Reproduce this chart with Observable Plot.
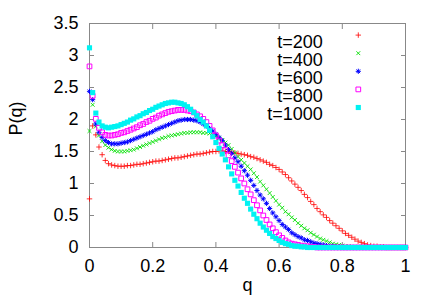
<!DOCTYPE html>
<html>
<head>
<meta charset="utf-8">
<script src="https://cdn.jsdelivr.net/npm/d3@7"></script>
<script src="https://cdn.jsdelivr.net/npm/@observablehq/plot@0.6"></script>
<style>
  html, body { margin: 0; padding: 0; background: #ffffff; }
  #chart svg { display: block; }
</style>
</head>
<body>
<div id="chart"></div>
<script>
// q grid (101 samples from 0 to 1)
const qValues = d3.range(0, 101).map(i => i / 100);

const seriesLabels = ["t=200", "t=400", "t=600", "t=800", "t=1000"];

const p200 = [0.76,1.90,1.76,1.57,1.45,1.36,1.31,1.29,1.28,1.27,
  1.27,1.27,1.28,1.28,1.29,1.30,1.30,1.31,1.32,1.33,
  1.34,1.35,1.35,1.36,1.37,1.38,1.39,1.40,1.40,1.41,
  1.42,1.43,1.44,1.45,1.46,1.46,1.47,1.48,1.49,1.50,
  1.50,1.51,1.51,1.50,1.50,1.49,1.48,1.47,1.46,1.45,
  1.44,1.42,1.41,1.39,1.37,1.35,1.33,1.30,1.28,1.25,
  1.22,1.18,1.14,1.09,1.04,0.99,0.94,0.89,0.83,0.78,
  0.72,0.67,0.61,0.56,0.51,0.47,0.42,0.38,0.34,0.30,
  0.26,0.22,0.19,0.16,0.13,0.10,0.08,0.06,0.04,0.03,
  0.02,0.02,0.01,0.01,0,0,0,0,0,0,0];

const p400 = [1.82,2.23,1.89,1.75,1.66,1.60,1.56,1.53,1.51,1.50,
  1.50,1.50,1.51,1.52,1.53,1.55,1.57,1.59,1.61,1.63,
  1.65,1.67,1.69,1.71,1.72,1.74,1.75,1.76,1.77,1.78,
  1.79,1.79,1.80,1.80,1.80,1.80,1.79,1.79,1.78,1.76,
  1.74,1.71,1.68,1.64,1.60,1.54,1.48,1.42,1.37,1.32,
  1.27,1.22,1.16,1.10,1.03,0.97,0.91,0.85,0.79,0.73,
  0.67,0.62,0.56,0.52,0.47,0.43,0.38,0.34,0.30,0.27,
  0.23,0.20,0.17,0.14,0.12,0.10,0.08,0.06,0.05,0.04,
  0.03,0.02,0.02,0.01,0.01,0,0,0,0,0,
  0,0,0,0,0,0,0,0,0,0,0];

const p600 = [2.44,2.31,1.93,1.80,1.72,1.67,1.64,1.62,1.62,1.62,
  1.63,1.64,1.65,1.67,1.69,1.71,1.73,1.75,1.77,1.79,
  1.81,1.84,1.86,1.88,1.90,1.92,1.94,1.96,1.98,1.99,
  2.00,2.00,2.00,1.99,1.98,1.96,1.93,1.90,1.86,1.82,
  1.77,1.72,1.67,1.60,1.53,1.47,1.40,1.34,1.27,1.20,
  1.13,1.05,0.97,0.89,0.82,0.76,0.69,0.61,0.54,0.48,
  0.42,0.36,0.32,0.28,0.23,0.20,0.17,0.15,0.12,0.11,
  0.09,0.07,0.06,0.05,0.04,0.03,0.02,0.02,0.01,0.01,
  0,0,0,0,0,0,0,0,0,0,
  0,0,0,0,0,0,0,0,0,0,0];

const p800 = [2.83,2.37,2.01,1.87,1.80,1.76,1.75,1.75,1.76,1.77,
  1.79,1.80,1.82,1.84,1.86,1.88,1.91,1.93,1.96,1.98,
  2.01,2.03,2.06,2.08,2.10,2.12,2.13,2.14,2.15,2.15,
  2.15,2.14,2.13,2.11,2.08,2.05,2.01,1.96,1.90,1.83,
  1.75,1.67,1.60,1.52,1.44,1.35,1.26,1.17,1.08,1.00,
  0.91,0.83,0.74,0.66,0.58,0.50,0.43,0.36,0.30,0.24,
  0.19,0.15,0.11,0.08,0.06,0.05,0.04,0.03,0.02,0.02,
  0.01,0.01,0,0,0,0,0,0,0,0,
  0,0,0,0,0,0,0,0,0,0,
  0,0,0,0,0,0,0,0,0,0,0];

const p1000 = [3.12,2.42,2.10,1.96,1.90,1.88,1.87,1.88,1.89,1.90,
  1.92,1.94,1.96,1.99,2.01,2.04,2.06,2.09,2.11,2.14,
  2.16,2.19,2.21,2.23,2.25,2.26,2.27,2.27,2.26,2.25,
  2.23,2.20,2.16,2.11,2.06,2.00,1.96,1.90,1.83,1.73,
  1.64,1.55,1.46,1.37,1.26,1.15,1.05,0.96,0.86,0.77,
  0.69,0.60,0.52,0.45,0.38,0.32,0.27,0.22,0.17,0.14,
  0.11,0.08,0.06,0.05,0.03,0.02,0.02,0.01,0.01,0,
  0,0,0,0,0,0,0,0,0,0,
  0,0,0,0,0,0,0,0,0,0,
  0,0,0,0,0,0,0,0,0,0,0];

const xTicks = [0, 0.2, 0.4, 0.6, 0.8, 1];
const xTickLabels = ["0", "0.2", "0.4", "0.6", "0.8", "1"];
const yTicks = [0, 0.5, 1, 1.5, 2, 2.5, 3, 3.5];
const yTickLabels = ["0", "0.5", "1", "1.5", "2", "2.5", "3", "3.5"];

// styling per series
const seriesValues = [p200, p400, p600, p800, p1000];
const seriesColors = ["#ff0000", "#00e000", "#0000ff", "#ff00ff", "#00f2f2"];
const seriesOpacity = [0.8, 0.9, 1, 1, 1];
// each series may be drawn with one or more symbol layers
const seriesSymbols = [
  [{symbol: "plus", r: 1.9, filled: false}],
  [{symbol: "times", r: 1.9, filled: false}],
  [{symbol: "plus", r: 1.8, filled: false}, {symbol: "times", r: 1.8, filled: false}],
  [{symbol: "square2", r: 3.0, filled: false}],
  [{symbol: "square", r: 2.9, filled: true}]
];

const rows = [];
seriesValues.forEach((vals, s) => {
  vals.forEach((v, i) => rows.push({s, q: qValues[i], p: v}));
});

const font = "'Liberation Sans', Arial, Helvetica, sans-serif";
const marks = [];

marks.push(Plot.frame({stroke: "#888888", strokeWidth: 1}));
// inward ticks, all four sides
marks.push(Plot.axisX({ticks: xTicks, anchor: "bottom", tickSize: -5, tickFormat: () => "", label: null, stroke: "#888888"}));
marks.push(Plot.axisX({ticks: xTicks, anchor: "top", tickSize: -5, tickFormat: () => "", label: null, stroke: "#888888"}));
marks.push(Plot.axisY({ticks: yTicks, anchor: "left", tickSize: -5, tickFormat: () => "", label: null, stroke: "#888888"}));
marks.push(Plot.axisY({ticks: yTicks, anchor: "right", tickSize: -5, tickFormat: () => "", label: null, stroke: "#888888"}));
// tick labels
marks.push(Plot.axisX({ticks: xTicks, anchor: "bottom", tickSize: 0, tickPadding: 11.5,
  tickFormat: d => xTickLabels[xTicks.indexOf(d)], label: null, fontSize: 18, fill: "#000"}));
marks.push(Plot.axisY({ticks: yTicks, anchor: "left", tickSize: 0, tickPadding: 11,
  tickFormat: d => yTickLabels[yTicks.indexOf(d)], label: null, fontSize: 18, fill: "#000"}));

// data
seriesValues.forEach((vals, s) => {
  const data = rows.filter(r => r.s === s);
  seriesSymbols[s].forEach(sym => {
    marks.push(Plot.dot(data, {
      x: "q", y: "p", symbol: () => sym.symbol, r: sym.r,
      stroke: sym.filled ? "none" : seriesColors[s],
      fill: sym.filled ? seriesColors[s] : "none",
      strokeOpacity: seriesOpacity[s],
      strokeWidth: 1
    }));
  });
});

// legend (top-right, inside frame)
seriesLabels.forEach((lab, s) => {
  const dy = 11.6 + s * 18.1;
  marks.push(Plot.text([lab], {text: d => d, frameAnchor: "top-right", textAnchor: "end",
    dx: -82.8, dy, fontSize: 18, fill: "#000"}));
  seriesSymbols[s].forEach(sym => {
    marks.push(Plot.dot([lab], {frameAnchor: "top-right", dx: -47.2, dy,
      symbol: () => sym.symbol, r: sym.r,
      stroke: sym.filled ? "none" : seriesColors[s],
      fill: sym.filled ? seriesColors[s] : "none",
      strokeOpacity: seriesOpacity[s], strokeWidth: 1}));
  });
});

// axis titles
marks.push(Plot.text(["q"], {text: d => d, frameAnchor: "bottom", dy: 43.5, fontSize: 18, fill: "#000"}));
marks.push(Plot.text(["P(q)"], {text: d => d, frameAnchor: "left", dx: -73.5, rotate: -90, fontSize: 18, fill: "#000"}));

const chart = Plot.plot({
  width: 436,
  height: 305,
  marginLeft: 89,
  marginRight: 31,
  marginTop: 23,
  marginBottom: 58,
  style: {fontFamily: font, fontSize: "18px", background: "#ffffff", color: "#000"},
  x: {domain: [0, 1], axis: null},
  y: {domain: [0, 3.5], axis: null},
  symbol: {type: "identity"},
  marks
});
document.getElementById("chart").appendChild(chart);
</script>
</body>
</html>
